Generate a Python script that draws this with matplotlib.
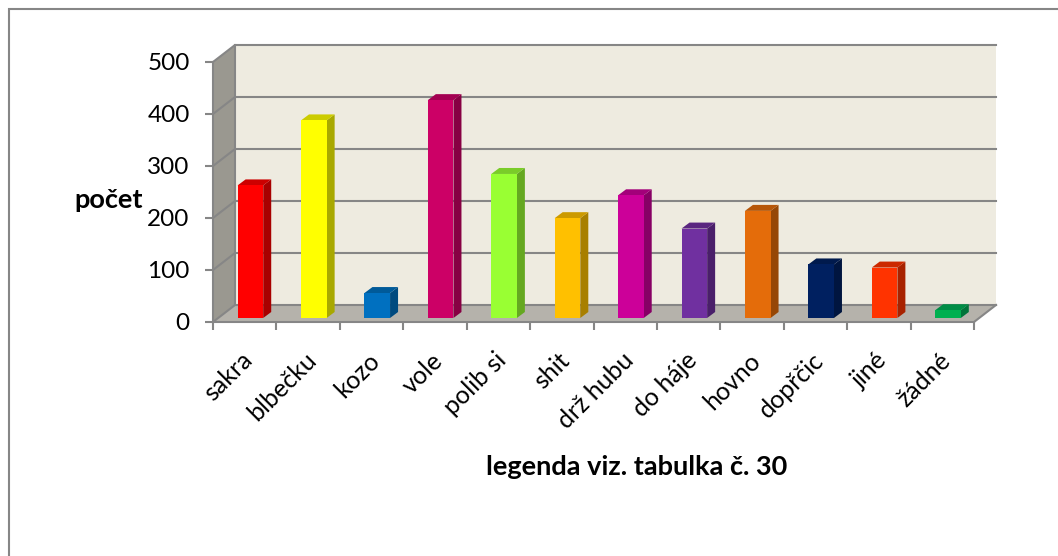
import matplotlib
matplotlib.use('Agg')
import matplotlib.pyplot as plt
from matplotlib.lines import Line2D
from matplotlib.patches import Polygon

categories = ['sakra', 'blbečku', 'kozo', 'vole', 'polib si', 'shit', 'drž hubu',
              'do háje', 'hovno', 'dopřčic', 'jiné', 'žádné']
values = [255, 380, 48, 419, 277, 192, 236, 172, 206, 103, 97, 15]
front_colors = ['#ff0000', '#ffff00', '#0070c0', '#cc0066', '#99ff33', '#ffc000',
                '#cc0099', '#7030a0', '#e46c0a', '#002060', '#ff3300', '#00b050']
side_colors = ['#a80000', '#a8a800', '#004a7f', '#870043', '#65a821', '#a87f00',
               '#870065', '#4a1f6a', '#964706', '#00153f', '#a82200', '#00743a']
top_colors = ['#cc0000', '#cccc00', '#005a99', '#a30052', '#7acc29', '#cc9a00',
              '#a3007a', '#5a2680', '#b65608', '#001a4d', '#cc2900', '#008d46']
y_ticks = [0, 100, 200, 300, 400, 500]

GRID = '#868686'
# wall depth, in data units
DX = 0.347
DY = 32.7
# bar depth and position on the floor
BAR_DX = 0.126
BAR_DY = 11.5
BAR_SHIFT_X = 0.09
BAR_SHIFT_Y = 7.7
BAR_W = 0.404

plt.rcParams['font.family'] = ['Lato', 'DejaVu Sans']

fig = plt.figure(figsize=(10.58, 5.56), dpi=100)
ax = fig.add_axes([213 / 1058, 1 - 322 / 556, 761 / 1058, 260 / 556])
ax.set_xlim(0, 12)
ax.set_ylim(0, 500)
ax.patch.set_visible(False)

# walls and floor
ax.add_patch(Polygon([(DX, DY), (12 + DX, DY), (12 + DX, 500 + DY), (DX, 500 + DY)],
                     fc='#eeebe0', ec='none', clip_on=False, zorder=1))
ax.add_patch(Polygon([(0, 0), (DX, DY), (DX, 500 + DY), (0, 500)],
                     fc='#9a9890', ec='none', clip_on=False, zorder=1))
ax.add_patch(Polygon([(0, 0), (12, 0), (12 + DX, DY), (DX, DY)],
                     fc='#b5b2ab', ec='none', clip_on=False, zorder=1))

# gridlines run along the side wall then the back wall
for v in y_ticks:
    ax.plot([0, DX, 12 + DX], [v, v + DY, v + DY], color=GRID, lw=1.5,
            clip_on=False, zorder=2, solid_joinstyle='miter')
ax.plot([DX, DX], [DY, 500 + DY], color=GRID, lw=1.5, clip_on=False, zorder=2)
ax.plot([12, 12 + DX], [0, DY], color=GRID, lw=1.5, clip_on=False, zorder=2)

# bars
centers = [i + 0.5 + BAR_SHIFT_X for i in range(len(values))]
bars = ax.bar(centers, values, width=BAR_W, bottom=BAR_SHIFT_Y, color=front_colors, zorder=4)
for bar, side, top in zip(bars, side_colors, top_colors):
    x0 = bar.get_x()
    x1 = x0 + bar.get_width()
    y0 = bar.get_y()
    y1 = y0 + bar.get_height()
    ax.add_patch(Polygon([(x1, y0), (x1 + BAR_DX, y0 + BAR_DY), (x1 + BAR_DX, y1 + BAR_DY), (x1, y1)],
                         fc=side, ec='none', clip_on=False, zorder=3))
    ax.add_patch(Polygon([(x0, y1), (x1, y1), (x1 + BAR_DX, y1 + BAR_DY), (x0 + BAR_DX, y1 + BAR_DY)],
                         fc=top, ec='none', clip_on=False, zorder=3))

# axes
for name in ['top', 'right']:
    ax.spines[name].set_visible(False)
for name in ['left', 'bottom']:
    ax.spines[name].set_color(GRID)
    ax.spines[name].set_linewidth(1.5)
    ax.spines[name].set_zorder(5)
ax.set_yticks(y_ticks)
ax.set_xticks(range(13))
ax.set_xticklabels([])
ax.tick_params(axis='both', which='major', color=GRID, width=1.5, length=5.8)
ax.tick_params(axis='y', labelsize=17.5, pad=11)
ax.set_xticks([i + 0.44 for i in range(12)], minor=True)
ax.set_xticklabels(categories, minor=True, rotation=45, ha='right', va='top',
                   rotation_mode='anchor', fontsize=18)
ax.tick_params(axis='x', which='minor', length=0, pad=19)

fig.text(109 / 1058, 1 - 200 / 556, 'počet', fontsize=19.5, fontweight='bold', ha='center', va='center')
fig.text(637 / 1058, 1 - 467 / 556, 'legenda viz. tabulka č. 30', fontsize=19.5, fontweight='bold',
         ha='center', va='center')

# chart frame, runs off the right and bottom of the picture
fig.add_artist(Line2D([8.5 / 1058, 8.5 / 1058, 1], [0, 1 - 9 / 556, 1 - 9 / 556], color=GRID, lw=1.5,
                      transform=fig.transFigure, solid_joinstyle='miter'))

fig.savefig('out.png', dpi=100)
